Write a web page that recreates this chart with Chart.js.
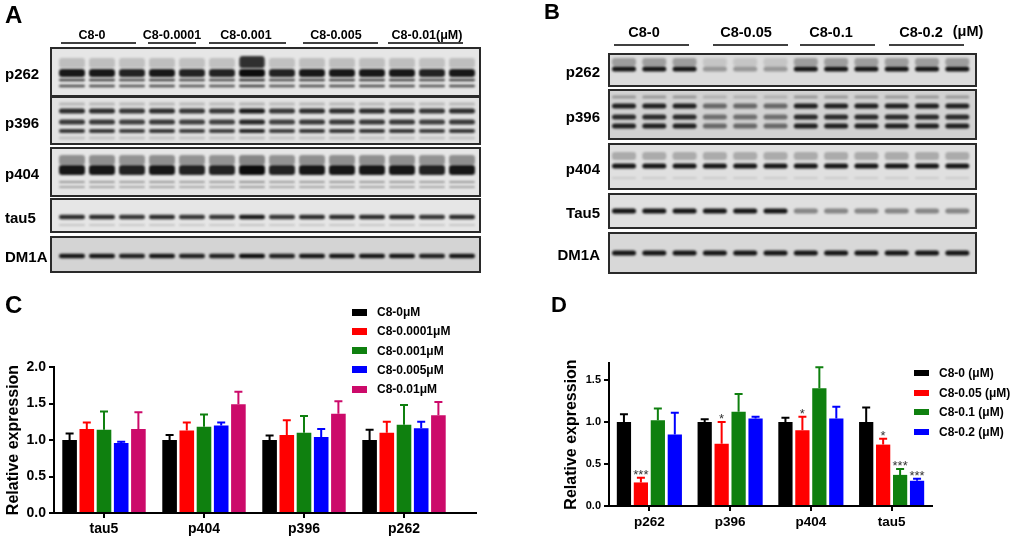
<!DOCTYPE html>
<html>
<head>
<meta charset="utf-8">
<script src="https://cdn.jsdelivr.net/npm/chart.js@4.4.1/dist/chart.umd.min.js"></script>
<style>
  body { margin: 0; width: 1017px; height: 540px; position: relative; background: #fff; overflow: hidden; font-family: "Liberation Sans", Arial, sans-serif; }
  .abs { position: absolute; }
  .lbl { position: absolute; font-weight: bold; white-space: nowrap; line-height: 1; color: #000; }
  .key { position: absolute; display: flex; align-items: center; font-weight: bold; font-size: 12px; color: #000; white-space: nowrap; }
</style>
</head>
<body>
<canvas id="blots" class="abs" width="1017" height="280" style="left:0;top:0"></canvas>
<div class="abs" style="left:0;top:280px;width:500px;height:260px"><canvas id="chartC"></canvas></div>
<div class="abs" style="left:500px;top:280px;width:517px;height:260px"><canvas id="chartD"></canvas></div>
<script>
// ---- panel C data ----
const categoriesC = ['tau5', 'p404', 'p396', 'p262'];
const seriesC = ['C8-0μM', 'C8-0.0001μM', 'C8-0.001μM', 'C8-0.005μM', 'C8-0.01μM'];
const c8_0 = [1.00, 1.00, 1.00, 1.00];
const c8_00001 = [1.15, 1.13, 1.07, 1.10];
const c8_0001 = [1.14, 1.18, 1.10, 1.21];
const c8_0005 = [0.96, 1.20, 1.04, 1.16];
const c8_001 = [1.15, 1.49, 1.36, 1.34];
const errC8_0 = [0.09, 0.07, 0.06, 0.14];
const errC8_00001 = [0.09, 0.11, 0.20, 0.15];
const errC8_0001 = [0.25, 0.17, 0.23, 0.27];
const errC8_0005 = [0.015, 0.04, 0.11, 0.09];
const errC8_001 = [0.23, 0.17, 0.17, 0.18];
const yTicksC = [0, 0.5, 1.0, 1.5, 2.0];

// ---- panel D data ----
const categoriesD = ['p262', 'p396', 'p404', 'tau5'];
const seriesD = ['C8-0 (μM)', 'C8-0.05 (μM)', 'C8-0.1 (μM)', 'C8-0.2 (μM)'];
const d8_0 = [1.00, 1.00, 1.00, 1.00];
const d8_005 = [0.28, 0.74, 0.90, 0.73];
const d8_01 = [1.02, 1.12, 1.40, 0.37];
const d8_02 = [0.85, 1.04, 1.04, 0.30];
const errD8_0 = [0.09, 0.03, 0.05, 0.17];
const errD8_005 = [0.055, 0.26, 0.16, 0.07];
const errD8_01 = [0.14, 0.21, 0.25, 0.07];
const errD8_02 = [0.26, 0.02, 0.14, 0.025];
const starsD8_0 = ['', '', '', ''];
const starsD8_005 = ['***', '*', '*', '*'];
const starsD8_01 = ['', '', '', '***'];
const starsD8_02 = ['', '', '', '***'];
const yTicksD = [0, 0.5, 1.0, 1.5];

const FONT = '"Liberation Sans", Arial, sans-serif';
const colorsC = ['#000000', '#ff0000', '#0f800f', '#0000ff', '#cc0a6a'];
const colorsD = ['#000000', '#ff0000', '#0f800f', '#0000ff'];

// ---- text helpers ----
function addText(txt, x, y, size, anchor) {
  const d = document.createElement('div');
  d.className = 'lbl';
  d.textContent = txt;
  const tx = anchor === 'c' ? -50 : anchor === 'r' ? -100 : 0;
  d.style.left = x + 'px';
  d.style.top = y + 'px';
  d.style.fontSize = size + 'px';
  d.style.transform = 'translate(' + tx + '%,-50%)';
  document.body.appendChild(d);
}
function addLegend(names, colors, x, y0, step, boxH) {
  names.forEach((n, i) => {
    const k = document.createElement('div');
    k.className = 'key';
    k.style.left = x + 'px';
    k.style.top = (y0 + i * step - 8) + 'px';
    k.style.height = '16px';
    k.innerHTML = '<span style="display:inline-block;width:15px;height:' + boxH + 'px;background:' + colors[i] + ';margin-right:10px"></span>' + n;
    document.body.appendChild(k);
  });
}

addText('A', 5, 15, 24, 'l');
addText('B', 544, 12, 22, 'l');
addText('C', 5, 305, 24, 'l');
addText('D', 551, 305, 22, 'l');

// ---- western blots (photo stand-ins) ----
const bc = document.getElementById('blots').getContext('2d');
function box(x, y, w, h, bg) {
  bc.fillStyle = bg;
  bc.fillRect(x, y, w, h);
  bc.strokeStyle = '#2a2a2a';
  bc.lineWidth = 2;
  bc.strokeRect(x, y, w, h);
}
function band(cx, cy, w, h, a) {
  bc.save();
  bc.filter = 'blur(1px)';
  bc.fillStyle = 'rgba(12,12,12,' + Math.min(a, 1) + ')';
  bc.beginPath();
  bc.roundRect(cx - w / 2, cy - h / 2, w, h, Math.min(h / 2, 3));
  bc.fill();
  bc.restore();
}
function underline(x1, x2, y) {
  bc.strokeStyle = '#000';
  bc.lineWidth = 1.5;
  bc.beginPath();
  bc.moveTo(x1, y);
  bc.lineTo(x2, y);
  bc.stroke();
}

// panel A
const laneA = [1, 1, 0.95, 1, 0.95, 0.95, 1.1, 0.95, 1, 1, 1, 1, 0.95, 1];
const rowsA = [
  { name: 'p262', y: 48, h: 48, bg: '#e6e6e6', bands: [[63, 10, 0.18], [73, 8, 0.95], [80, 2.5, 0.75], [86, 2.5, 0.7]] },
  { name: 'p396', y: 97, h: 47, bg: '#e2e2e2', bands: [[104, 3, 0.2], [111, 5, 0.85], [122, 5, 0.8], [131, 4, 0.8], [138, 3, 0.15]] },
  { name: 'p404', y: 148, h: 48, bg: '#e6e6e6', bands: [[160, 10, 0.4], [170, 10, 0.95], [182, 2, 0.35], [187, 2, 0.3]] },
  { name: 'tau5', y: 199, h: 33, bg: '#e6e6e6', bands: [[217, 4.5, 0.85], [225, 2, 0.15]] },
  { name: 'DM1A', y: 237, h: 35, bg: '#d4d4d4', bands: [[256, 4.5, 0.95]] }
];
rowsA.forEach(r => {
  box(51, r.y, 429, r.h, r.bg);
  for (let i = 0; i < 14; i++) {
    r.bands.forEach(b => band(72 + i * 30, b[0], 26, b[1], b[2] * laneA[i]));
  }
  addText(r.name, 5, r.y + r.h / 2 + 1, 15, 'l');
});
band(252, 62, 25, 12, 0.8);
const groupsA = [['C8-0', 92, 61, 136], ['C8-0.0001', 172, 148, 196], ['C8-0.001', 246, 209, 286], ['C8-0.005', 336, 303, 378], ['C8-0.01(μM)', 427, 388, 463]];
groupsA.forEach(g => { addText(g[0], g[1], 35, 12.5, 'c'); underline(g[2], g[3], 43); });

// panel B
const laneB = [1, 1, 1, 1, 1, 1, 1, 1, 1, 1, 1, 1];
const rowsB = [
  { name: 'p262', y: 54, h: 32, bg: '#dcdcdc', weak: [3, 4, 5], wa: 0.35, bands: [[62, 8, 0.3], [69, 5, 0.95]] },
  { name: 'p396', y: 90, h: 49, bg: '#d2d2d2', weak: [3, 4, 5], wa: 0.6, bands: [[97, 3, 0.3], [106, 5, 0.9], [117, 5, 0.85], [126, 5, 0.9]] },
  { name: 'p404', y: 144, h: 45, bg: '#e0e0e0', weak: [], wa: 1, bands: [[156, 8, 0.25], [166, 5, 0.95], [178, 2, 0.1]] },
  { name: 'Tau5', y: 194, h: 34, bg: '#e0e0e0', weak: [6, 7, 8, 9, 10, 11], wa: 0.45, bands: [[211, 5, 0.95]] },
  { name: 'DM1A', y: 233, h: 40, bg: '#d8d8d8', weak: [], wa: 1, bands: [[253, 5, 0.95]] }
];
rowsB.forEach(r => {
  box(609, r.y, 367, r.h, r.bg);
  for (let i = 0; i < 12; i++) {
    const m = r.weak.includes(i) ? r.wa : 1;
    r.bands.forEach(b => band(624 + i * 30.3, b[0], 24, b[1], b[2] * m * laneB[i]));
  }
  addText(r.name, 600, r.y + r.h / 2 + 1, 15, 'r');
});
const groupsB = [['C8-0', 644, 614, 689], ['C8-0.05', 746, 713, 788], ['C8-0.1', 831, 800, 875], ['C8-0.2', 921, 889, 964]];
groupsB.forEach(g => { addText(g[0], g[1], 32, 14.5, 'c'); underline(g[2], g[3], 45); });
addText('(μM)', 968, 31, 14.5, 'c');

// ---- error bars + stars plugin ----
const errorBars = {
  id: 'errorBars',
  afterDatasetsDraw(chart) {
    const ctx = chart.ctx;
    const y = chart.scales.y;
    chart.data.datasets.forEach((ds, i) => {
      chart.getDatasetMeta(i).data.forEach((bar, j) => {
        const top = y.getPixelForValue(ds.data[j] + ds.errors[j]);
        ctx.save();
        ctx.strokeStyle = ds.backgroundColor;
        ctx.lineWidth = 2;
        ctx.beginPath();
        ctx.moveTo(bar.x, bar.y);
        ctx.lineTo(bar.x, top);
        ctx.moveTo(bar.x - 4, top);
        ctx.lineTo(bar.x + 4, top);
        ctx.stroke();
        if (ds.stars && ds.stars[j]) {
          ctx.fillStyle = '#333';
          ctx.font = '13px ' + FONT;
          ctx.textAlign = 'center';
          ctx.textBaseline = 'alphabetic';
          ctx.fillText(ds.stars[j], bar.x, top + 1);
        }
        ctx.restore();
      });
    });
  }
};
const axisExtend = {
  id: 'axisExtend',
  afterDraw(chart, args, opts) {
    if (!opts.px) return;
    const a = chart.chartArea, ctx = chart.ctx;
    ctx.save();
    ctx.strokeStyle = '#000';
    ctx.lineWidth = 2;
    ctx.beginPath();
    ctx.moveTo(a.right - 1, a.bottom);
    ctx.lineTo(a.right + opts.px, a.bottom);
    ctx.stroke();
    ctx.restore();
  }
};

function makeChart(id, cats, names, values, errors, stars, colors, opt) {
  const datasets = names.map((n, i) => ({
    label: n,
    data: values[i],
    errors: errors[i],
    stars: stars ? stars[i] : null,
    backgroundColor: colors[i],
    borderWidth: 0,
    categoryPercentage: opt.catPct,
    barPercentage: opt.barPct
  }));
  const tickGrid = { display: true, drawOnChartArea: false, drawTicks: true, tickLength: 5, color: '#000', lineWidth: 2, offset: false };
  return new Chart(document.getElementById(id), {
    type: 'bar',
    data: { labels: cats, datasets: datasets },
    plugins: [errorBars, axisExtend],
    options: {
      responsive: true,
      maintainAspectRatio: false,
      animation: false,
      layout: { padding: opt.padding },
      plugins: { legend: { display: false }, tooltip: { enabled: false }, axisExtend: { px: opt.extend } },
      scales: {
        x: {
          offset: true,
          grid: tickGrid,
          border: { display: true, color: '#000', width: 2 },
          ticks: { color: '#000', padding: 3, maxRotation: 0, font: { family: FONT, size: opt.xFont, weight: 'bold' } },
          afterFit: s => { s.height = opt.xH; }
        },
        y: {
          min: 0,
          max: opt.yMax,
          afterBuildTicks: s => { s.ticks = opt.yTicks.map(v => ({ value: v })); },
          grid: tickGrid,
          border: { display: true, color: '#000', width: 2 },
          ticks: { color: '#000', padding: 3, callback: v => v.toFixed(1), font: { family: FONT, size: opt.yFont, weight: 'bold' } },
          title: { display: true, text: 'Relative expression', color: '#000', padding: { top: 4, bottom: 0 }, font: { family: FONT, size: 16, weight: 'bold' } },
          afterFit: s => { s.width = opt.yW; }
        }
      }
    }
  });
}

makeChart('chartC', categoriesC, seriesC,
  [c8_0, c8_00001, c8_0001, c8_0005, c8_001],
  [errC8_0, errC8_00001, errC8_0001, errC8_0005, errC8_001],
  null, colorsC,
  { catPct: 0.86, barPct: 0.85, padding: { top: 87, right: 46, left: 0, bottom: 0 }, extend: 23,
    xFont: 14, yFont: 14, xH: 27, yW: 54, yMax: 2, yTicks: yTicksC });

makeChart('chartD', categoriesD, seriesD,
  [d8_0, d8_005, d8_01, d8_02],
  [errD8_0, errD8_005, errD8_01, errD8_02],
  [starsD8_0, starsD8_005, starsD8_01, starsD8_02], colorsD,
  { catPct: 0.84, barPct: 0.84, padding: { top: 83, right: 85, left: 58, bottom: 0 }, extend: 0,
    xFont: 13.5, yFont: 11, xH: 34, yW: 51, yMax: 1.7, yTicks: yTicksD });

addLegend(seriesC, colorsC, 352, 312, 19.3, 7);
addLegend(seriesD, colorsD, 914, 373, 19.7, 6);
</script>
</body>
</html>
